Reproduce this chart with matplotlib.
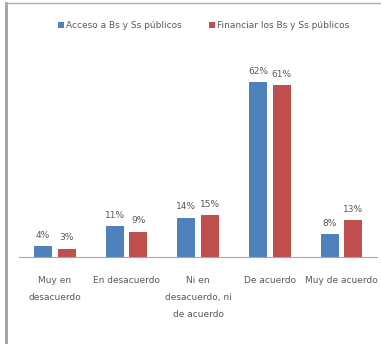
import matplotlib
matplotlib.use("Agg")
import matplotlib.pyplot as plt
import numpy as np
from matplotlib.lines import Line2D

plt.rcParams["font.family"] = ["Liberation Sans Narrow", "DejaVu Sans"]

categories = ["Muy en\ndesacuerdo", "En desacuerdo", "Ni en\ndesacuerdo, ni\nde acuerdo",
              "De acuerdo", "Muy de acuerdo"]
series_names = ["Acceso a Bs y Ss públicos", "Financiar los Bs y Ss públicos"]
acceso = [4, 11, 14, 62, 8]
financiar = [3, 9, 15, 61, 13]

BLUE = "#4F81BD"
RED = "#C0504D"
TEXT = "#595959"

fig = plt.figure(figsize=(3.81, 3.44), dpi=100)
fig.patch.set_facecolor("white")
ax = fig.add_axes([0.05, 0.253, 0.94, 0.573])

x = np.arange(len(categories))
w = 0.25
off = 0.165
b1 = ax.bar(x - off, acceso, w, color=BLUE, label=series_names[0])
b2 = ax.bar(x + off, financiar, w, color=RED, label=series_names[1])

for bars, vals in ((b1, acceso), (b2, financiar)):
    for rect, v in zip(bars, vals):
        ax.text(rect.get_x() + rect.get_width() / 2, v + 2.2, f"{v}%",
                ha="center", va="bottom", fontsize=6.5, color=TEXT)

ax.set_xlim(-0.5, len(categories) - 0.5)
ax.set_ylim(0, 70)
ax.set_yticks([])
ax.set_xticks(x)
ax.set_xticklabels(categories, fontsize=6.5, color=TEXT, linespacing=2.1)
ax.tick_params(axis="x", length=0, pad=14)
for side in ("top", "right", "left"):
    ax.spines[side].set_visible(False)
ax.spines["bottom"].set_color("#A6A6A6")
ax.spines["bottom"].set_linewidth(0.8)

fig.legend(handles=[b1, b2], loc="center", bbox_to_anchor=(0.535, 0.925), ncol=2,
           frameon=False, fontsize=6.5, handlelength=0.6, handleheight=0.6,
           columnspacing=3.0, handletextpad=0.3, labelcolor=TEXT)

# chart frame: left and top edges
fig.add_artist(Line2D([0.017, 0.017], [0.0, 0.99], color="#A0A0A0", lw=2.0,
                      transform=fig.transFigure))
fig.add_artist(Line2D([0.017, 1.0], [0.99, 0.99], color="#B0B0B0", lw=1.0,
                      transform=fig.transFigure))

fig.savefig("out.png", dpi=100)
